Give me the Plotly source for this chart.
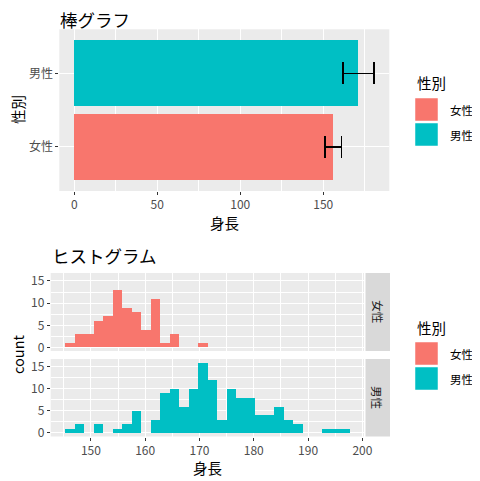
import plotly.graph_objects as go

# bar chart data (mean height +/- sd by sex)
sex = ["女性", "男性"]
mean_height = [156.1, 171.2]
sd_height = [4.9, 9.4]

# histogram data: 30 bins of equal width
bin_start = 145.2
bin_width = 1.75
female_counts = [1, 3, 3, 6, 7, 13, 9, 8, 4, 11, 1, 3, 0, 0, 1,
                 0, 0, 0, 0, 0, 0, 0, 0, 0, 0, 0, 0, 0, 0, 0]
male_counts = [1, 2, 0, 2, 0, 1, 2, 5, 0, 3, 9, 10, 6, 10, 16,
               12, 3, 10, 8, 8, 4, 4, 6, 3, 2, 0, 0, 1, 1, 1]

colors = {"女性": "#F8766D", "男性": "#00BFC4"}
FONT = "Noto Sans CJK JP"
# the page body has an 8px margin, so the figure is placed 8px in from the corner
PAD = 8
W, H = 480 - PAD, 481 - PAD


def px_x(v):
    return (v - PAD) / W


def px_y(v):
    return 1 - (v - PAD) / H


bin_centers = [bin_start + bin_width * (i + 0.5) for i in range(len(male_counts))]

fig = go.Figure()

fig.add_trace(go.Bar(
    x=mean_height, y=sex, orientation="h", width=0.9,
    marker=dict(color=[colors[s] for s in sex], line_width=0),
    error_x=dict(type="data", array=sd_height, color="black", thickness=1.5, width=11),
    xaxis="x", yaxis="y", showlegend=False,
))
fig.add_trace(go.Bar(
    x=bin_centers, y=female_counts, width=bin_width,
    marker=dict(color=colors["女性"], line_width=0),
    xaxis="x2", yaxis="y2", showlegend=False,
))
fig.add_trace(go.Bar(
    x=bin_centers, y=male_counts, width=bin_width,
    marker=dict(color=colors["男性"], line_width=0),
    xaxis="x3", yaxis="y3", showlegend=False,
))

tickfont = dict(family=FONT, size=12, color="#4D4D4D")
common = dict(showgrid=True, gridcolor="white", gridwidth=1.1, zeroline=False,
              ticklen=3, tickcolor="#333333", tickwidth=1, automargin=False,
              tickfont=tickfont, showline=False)
minor = dict(showgrid=True, gridcolor="white", gridwidth=0.55, ticks="")

fig.update_layout(
    width=W, height=H,
    margin=dict(l=0, r=0, t=0, b=0),
    paper_bgcolor="white", plot_bgcolor="#EBEBEB",
    bargap=0,
    font=dict(family=FONT),
    xaxis=dict(domain=[px_x(59.3), px_x(389.3)], anchor="y", range=[-9.0, 189.8],
               dtick=50, ticks="outside", minor=dict(dtick=25, **minor), **common),
    yaxis=dict(domain=[px_y(191), px_y(29.3)], anchor="x", type="category",
               categoryorder="array", categoryarray=sex, range=[-0.6, 1.6],
               ticks="outside", **common),
    xaxis2=dict(domain=[px_x(50.7), px_x(364)], anchor="y2", range=[142.6, 200.3],
                dtick=10, showticklabels=False, ticks="",
                minor=dict(dtick=5, **minor), **common),
    yaxis2=dict(domain=[px_y(351), px_y(273)], anchor="x2", range=[-0.8, 16.8],
                dtick=5, ticks="outside", minor=dict(dtick=2.5, **minor), **common),
    xaxis3=dict(domain=[px_x(50.7), px_x(364)], anchor="y3", range=[142.6, 200.3],
                dtick=10, ticks="outside", minor=dict(dtick=5, **minor), **common),
    yaxis3=dict(domain=[px_y(436.5), px_y(359)], anchor="x3", range=[-0.8, 16.8],
                dtick=5, ticks="outside", minor=dict(dtick=2.5, **minor), **common),
)

ann = []
shapes = []


def text(x, y, s, size, color="black", angle=0, xanchor="center"):
    ann.append(dict(x=px_x(x), y=px_y(y), xref="paper", yref="paper", text=s,
                    showarrow=False, textangle=angle, xanchor=xanchor, yanchor="middle",
                    font=dict(family=FONT, size=size, color=color)))


# titles
text(58, 19, "棒グラフ", 17.5, xanchor="left")
text(50, 255, "ヒストグラム", 17.5, xanchor="left")
# axis titles
text(224, 222, "身長", 14.5)
text(17, 110, "性別", 14.5, angle=-90)
text(207, 467, "身長", 14.5)
text(17, 355, "count", 14.5, angle=-90)

# facet strips
for y0, y1, label in [(273, 351, "女性"), (359, 436.5, "男性")]:
    shapes.append(dict(type="rect", xref="paper", yref="paper", x0=px_x(365.5), x1=px_x(390),
                       y0=px_y(y1), y1=px_y(y0), fillcolor="#D9D9D9", line_width=0, layer="below"))
    text(377.7, (y0 + y1) / 2, label, 11.5, color="#1A1A1A", angle=90)

# legends (drawn as keys + labels)
for title_y, key_top in [(82, 98), (327, 342)]:
    text(415, title_y, "性別", 14.5, xanchor="left")
    for i, s in enumerate(sex):
        t = key_top + i * 25
        shapes.append(dict(type="rect", xref="paper", yref="paper", x0=px_x(415), x1=px_x(438),
                           y0=px_y(t + 23), y1=px_y(t), fillcolor=colors[s],
                           line=dict(color="white", width=0.5)))
        text(448, t + 11.5, s, 11.5, xanchor="left")

fig.update_layout(annotations=ann, shapes=shapes)

fig.write_html("out.html")
